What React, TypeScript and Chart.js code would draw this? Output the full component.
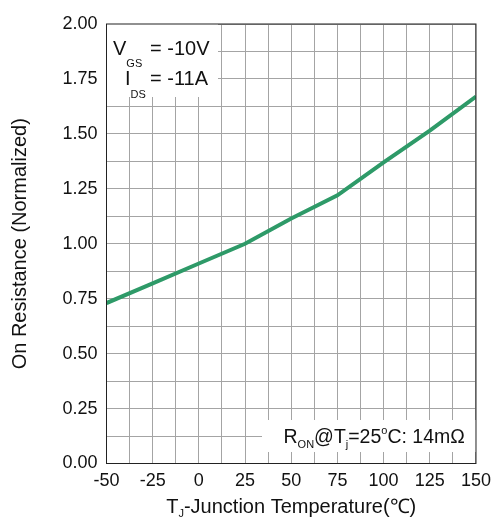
import React, { useEffect, useRef } from "react";
import { Chart, registerables } from "chart.js";

Chart.register(...registerables);

const temperatures = [-50, -25, 0, 25, 50, 75, 100, 125, 150];
const resistance = [0.73, 0.82, 0.91, 1.0, 1.115, 1.22, 1.37, 1.515, 1.67];
const xTickLabels = ["-50", "-25", "0", "25", "50", "75", "100", "125", "150"];
const yTickLabels = ["0.00", "0.25", "0.50", "0.75", "1.00", "1.25", "1.50", "1.75", "2.00"];

const FONT = "'Liberation Sans', Arial, sans-serif";

type Seg = { t: string; size: number; dy: number };

function drawSegs(ctx: CanvasRenderingContext2D, segs: Seg[], x: number, y: number) {
  let cx = x;
  for (const s of segs) {
    ctx.font = `${s.size}px ${FONT}`;
    ctx.fillText(s.t, cx, y + s.dy);
    cx += ctx.measureText(s.t).width;
  }
}

const annotationPlugin = {
  id: "annotations",
  afterDraw(chart: any) {
    const ctx: CanvasRenderingContext2D = chart.ctx;
    const a = chart.chartArea;
    ctx.save();
    // white label boxes
    ctx.fillStyle = "#ffffff";
    ctx.fillRect(a.left, a.top, 218 - a.left, 97 - a.top);
    ctx.fillRect(262, 420, 214, 32);

    ctx.fillStyle = "#111111";
    ctx.textBaseline = "alphabetic";
    ctx.textAlign = "left";
    drawSegs(ctx, [{ t: "V", size: 20, dy: 0 }, { t: "GS", size: 11, dy: 12 }], 113, 55);
    drawSegs(ctx, [{ t: "= -10V", size: 20, dy: 0 }], 150, 55);
    drawSegs(ctx, [{ t: "I", size: 20, dy: 0 }, { t: "DS", size: 11, dy: 13 }], 125, 85);
    drawSegs(ctx, [{ t: "= -11A", size: 20, dy: 0 }], 150, 85);

    drawSegs(
      ctx,
      [
        { t: "R", size: 19.5, dy: 0 },
        { t: "ON", size: 11, dy: 5 },
        { t: "@T", size: 19.5, dy: 0 },
        { t: "j", size: 11, dy: 5 },
        { t: "=25", size: 19.5, dy: 0 },
        { t: "o", size: 11, dy: -9 },
        { t: "C: 14mΩ", size: 19.5, dy: 0 },
      ],
      283.5,
      443
    );

    // x axis title with subscript
    const segs: Seg[] = [
      { t: "T", size: 20, dy: 0 },
      { t: "J", size: 11, dy: 4 },
      { t: "-Junction Temperature(℃)", size: 20, dy: 0 },
    ];
    let w = 0;
    for (const s of segs) {
      ctx.font = `${s.size}px ${FONT}`;
      w += ctx.measureText(s.t).width;
    }
    drawSegs(ctx, segs, (a.left + a.right) / 2 - w / 2, 513);

    // frame
    ctx.strokeStyle = "#222222";
    ctx.lineWidth = 1;
    ctx.strokeRect(a.left, a.top, a.right - a.left, a.bottom - a.top);
    ctx.restore();
  },
};

export default function App() {
  const ref = useRef<HTMLCanvasElement | null>(null);

  useEffect(() => {
    document.body.style.margin = "0";
    const canvas = ref.current;
    if (!canvas) return;
    const chart = new Chart(canvas, {
      type: "line",
      data: {
        datasets: [
          {
            data: temperatures.map((t, i) => ({ x: t, y: resistance[i] })),
            borderColor: "#2e9a68",
            borderWidth: 4,
            pointRadius: 0,
            tension: 0,
            fill: false,
          },
        ],
      },
      options: {
        animation: false,
        responsive: false,
        maintainAspectRatio: false,
        layout: { padding: { left: 0, right: 19, top: 24, bottom: 0 } },
        plugins: { legend: { display: false }, tooltip: { enabled: false } },
        scales: {
          x: {
            type: "linear",
            min: -50,
            max: 150,
            border: { display: false },
            grid: { color: "#a4a4a4", lineWidth: 1, drawTicks: false },
            ticks: {
              stepSize: 12.5,
              autoSkip: false,
              maxRotation: 0,
              padding: 7,
              color: "#111111",
              font: { family: FONT, size: 18 },
              callback: (v: any) => {
                const i = xTickLabels.indexOf(String(v));
                return i >= 0 ? xTickLabels[i] : "";
              },
            },
            afterFit: (s: any) => {
              s.height = 53.5;
            },
          },
          y: {
            min: 0,
            max: 2,
            border: { display: false },
            grid: { color: "#a4a4a4", lineWidth: 1, drawTicks: false },
            ticks: {
              stepSize: 0.125,
              autoSkip: false,
              padding: 9,
              color: "#111111",
              font: { family: FONT, size: 18 },
              callback: (v: any) => {
                const label = Number(v).toFixed(2);
                return yTickLabels.includes(label) ? label : "";
              },
            },
            title: {
              display: true,
              text: "On Resistance (Normalized)",
              color: "#111111",
              font: { family: FONT, size: 20 },
              padding: { top: 8, bottom: 0 },
            },
            afterFit: (s: any) => {
              s.width = 106.5;
            },
          },
        },
      },
      plugins: [annotationPlugin],
    });
    return () => chart.destroy();
  }, []);

  return (
    <div style={{ width: 498, height: 517 }}>
      <canvas ref={ref} width={498} height={517} style={{ display: "block", width: 498, height: 517 }} />
    </div>
  );
}
